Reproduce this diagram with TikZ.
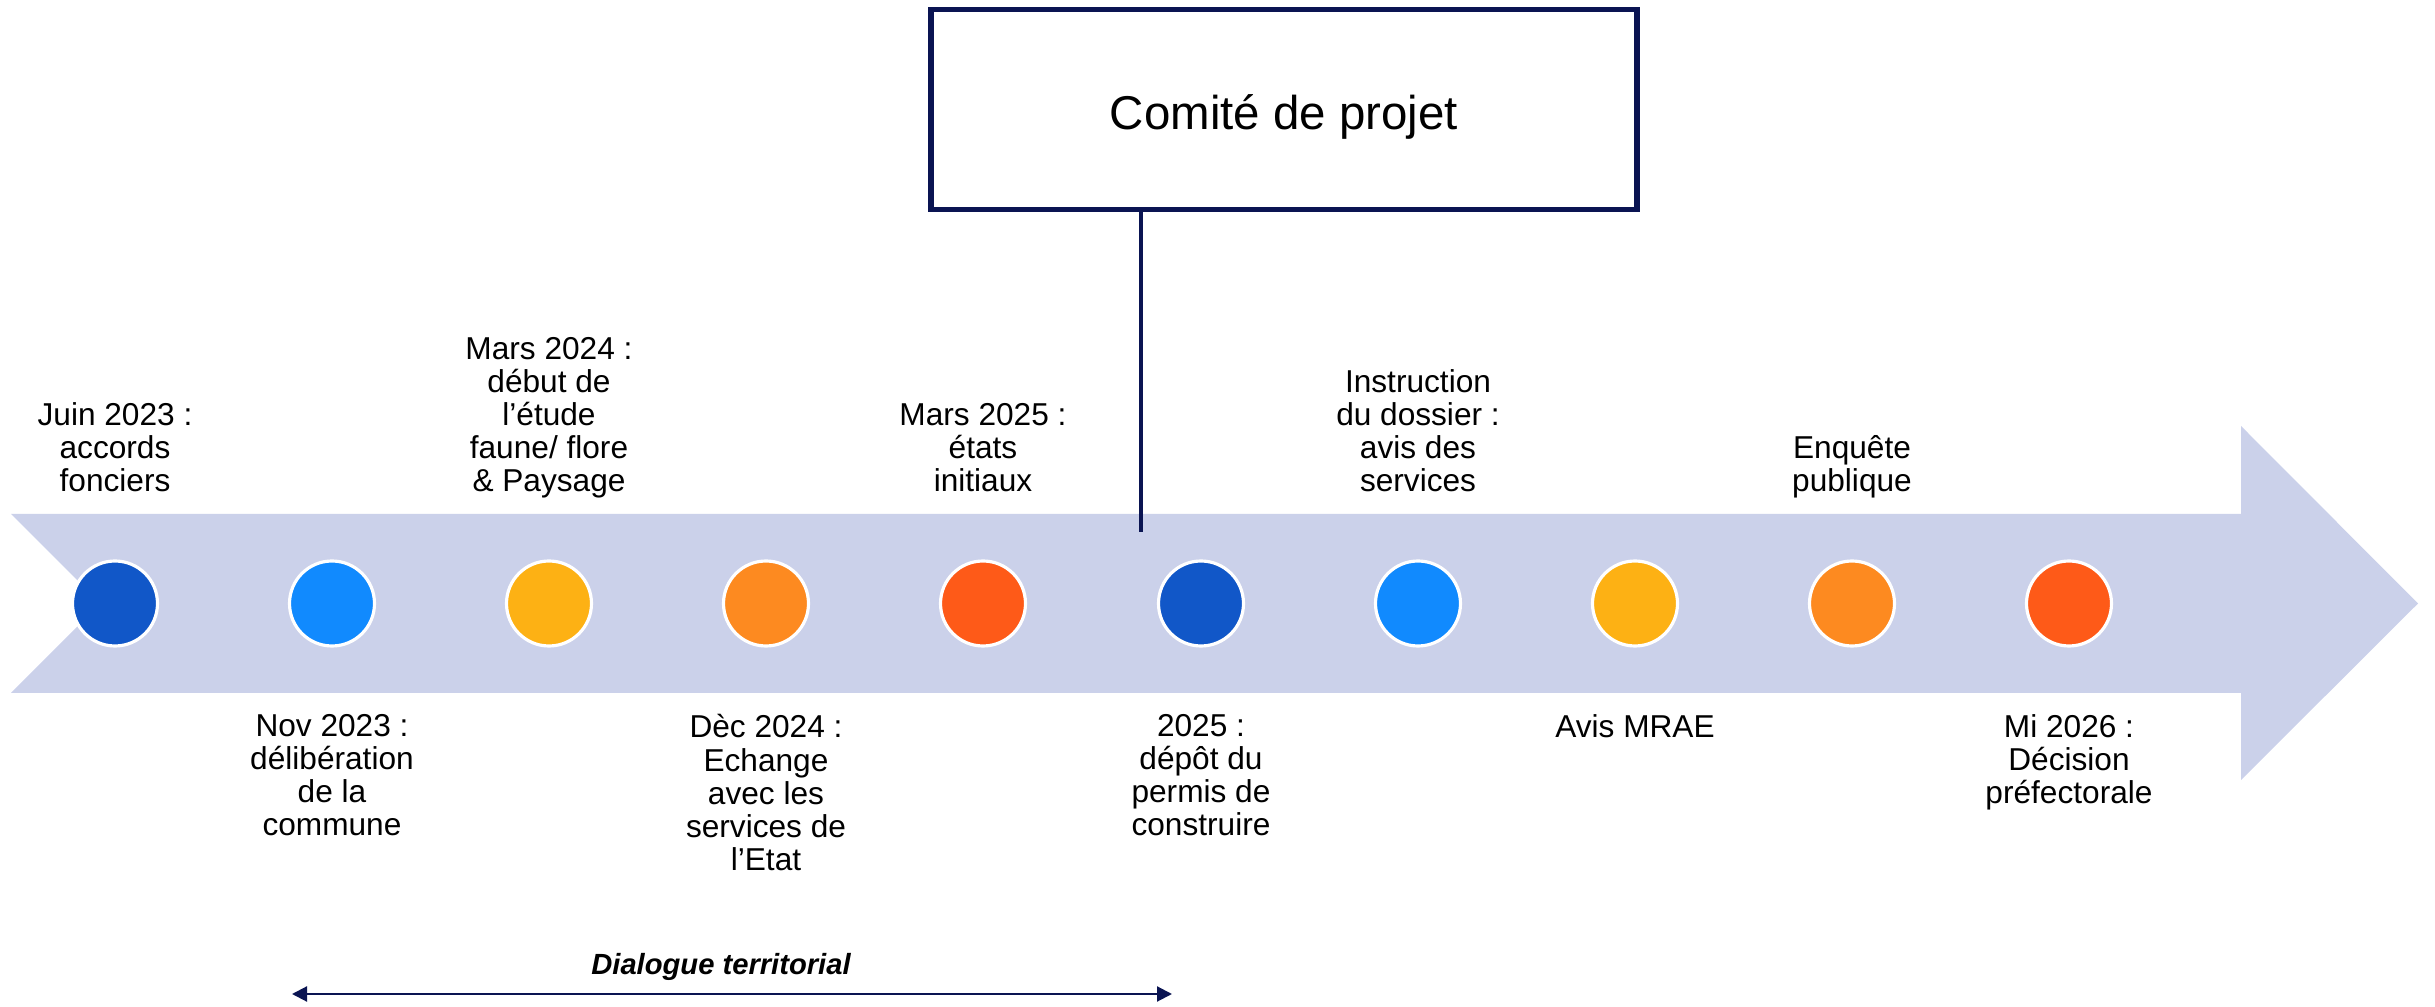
\documentclass[tikz,border=0pt]{standalone}
\usepackage{fontspec}
\setmainfont{Liberation Sans}
\usetikzlibrary{arrows.meta, positioning}
\definecolor{bandcolor}{RGB}{203,209,234}
\definecolor{navycolor}{RGB}{10,20,82}
\definecolor{bluecolor}{RGB}{17,87,200}
\definecolor{skycolor}{RGB}{17,138,254}
\definecolor{ambercolor}{RGB}{253,177,20}
\definecolor{orangecolor}{RGB}{253,138,32}
\definecolor{redcolor}{RGB}{254,90,24}

\begin{document}
\begin{tikzpicture}
  \tikzset{
    dot/.style={
      circle,
      draw=white,
      line width=0.9pt,
      minimum size=0.85cm,
      inner sep=0pt
    },
    evt/.style={
      align=center,
      inner sep=0pt,
      font=\fontsize{9}{9.4}\selectfont,
      execute at begin node=\strut,
      execute at end node=\strut
    }
  }
  \useasboundingbox (0,0) rectangle (24.35,10.07);

  % Timeline band (notched tail, arrow head)
  \fill[bandcolor] (0.11,3.14) -- (22.41,3.14) -- (22.41,2.27) -- (24.18,4.035)
    -- (22.41,5.81) -- (22.41,4.93) -- (0.11,4.93) -- (1.005,4.035) -- cycle;

  % Project committee
  \node[draw=navycolor, line width=1.6pt, minimum width=7.06cm, minimum height=2.0cm,
    text height=0.51cm, text depth=0.1cm,
    font=\fontsize{13.5}{16}\selectfont] (comite) at (12.84,8.975) {Comité de projet};
  \coordinate (comitefoot) at (11.41,4.75);
  \draw[navycolor, line width=1.3pt] (comite.south -| comitefoot) -- (comitefoot);

  % Milestones
  \node[dot, fill=bluecolor] (juin23) at (1.15,4.035) {};
  \node[dot, fill=skycolor] (nov23) at (3.32,4.035) {};
  \node[dot, fill=ambercolor] (mars24) at (5.49,4.035) {};
  \node[dot, fill=orangecolor] (dec24) at (7.66,4.035) {};
  \node[dot, fill=redcolor] (mars25) at (9.83,4.035) {};
  \node[dot, fill=bluecolor] (depot25) at (12.01,4.035) {};
  \node[dot, fill=skycolor] (instruction) at (14.18,4.035) {};
  \node[dot, fill=ambercolor] (mrae) at (16.35,4.035) {};
  \node[dot, fill=orangecolor] (enquete) at (18.52,4.035) {};
  \node[dot, fill=redcolor] (mi26) at (20.69,4.035) {};

  % Texts above the band
  \node[evt, anchor=south] (juin23txt) at (1.15,5.05) {Juin 2023 :\\ accords\\ fonciers};
  \node[evt, anchor=south] (mars24txt) at (5.49,5.05) {Mars 2024 :\\ début de\\ l’étude\\ faune/ flore\\ \& Paysage};
  \node[evt, anchor=south] (mars25txt) at (9.83,5.05) {Mars 2025 :\\ états\\ initiaux};
  \node[evt, anchor=south] (instructiontxt) at (14.18,5.05) {Instruction\\ du dossier :\\ avis des\\ services};
  \node[evt, anchor=south] (enquetetxt) at (18.52,5.05) {Enquête\\ publique};

  % Texts below the band
  \node[evt, anchor=north] (nov23txt) at (3.32,2.93) {Nov 2023 :\\ délibération\\ de la\\ commune};
  \node[evt, anchor=north] (dec24txt) at (7.66,2.93) {Dèc 2024 :\\ Echange\\ avec les\\ services de\\ l’Etat};
  \node[evt, anchor=north] (depot25txt) at (12.01,2.93) {2025 :\\ dépôt du\\ permis de\\ construire};
  \node[evt, anchor=north] (mraetxt) at (16.35,2.93) {Avis MRAE};
  \node[evt, anchor=north] (mi26txt) at (20.69,2.93) {Mi 2026 :\\ Décision\\ préfectorale};

  % Territorial dialogue span
  \node[anchor=base, inner sep=0pt, font=\fontsize{8.3}{10}\selectfont\bfseries\itshape]
    (dialogue) at (7.21,0.32) {Dialogue territorial};
  \coordinate (dialstart) at (2.92,0.13);
  \coordinate (dialend) at (11.72,0.13);
  \draw[navycolor, line width=0.6pt,
    {Triangle[length=0.15cm, width=0.15cm]}-{Triangle[length=0.15cm, width=0.15cm]}]
    (dialstart) -- (dialend);
\end{tikzpicture}
\end{document}
